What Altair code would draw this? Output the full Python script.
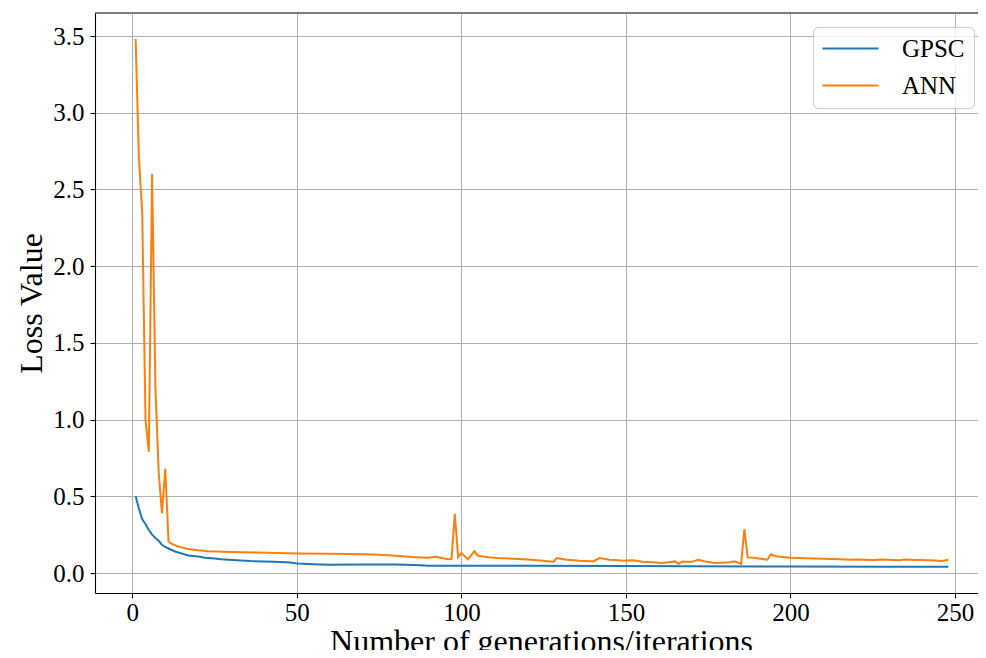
import altair as alt
import pandas as pd

# ---- data ----
gpsc_x = [1, 2, 3, 4, 5, 6, 7, 8, 9, 10, 11, 13, 15, 17, 20, 22, 25, 27, 33, 36, 43, 48, 50,
          55, 60, 70, 80, 86, 90, 120, 150, 170, 200, 230, 248]
gpsc_y = [0.50, 0.42, 0.35, 0.32, 0.28, 0.25, 0.228, 0.21, 0.184, 0.17, 0.16, 0.14, 0.128,
          0.115, 0.108, 0.100, 0.095, 0.090, 0.082, 0.078, 0.074, 0.068, 0.062, 0.058, 0.054,
          0.055, 0.055, 0.052, 0.048, 0.048, 0.046, 0.044, 0.042, 0.041, 0.041]

ann_x = [1, 2, 3, 4, 5, 6, 7, 8, 9, 10, 11, 12, 14, 17, 20, 23, 30, 38, 50, 60, 70, 75, 80,
         85, 88, 90, 92, 94, 96, 97, 98, 99, 100, 102, 104, 105, 108, 111, 116, 120, 124,
         127, 128, 129, 132, 136, 140, 142, 145, 147, 149, 152, 155, 158, 161, 163, 165,
         166, 167, 170, 172, 174, 177, 181, 183, 185, 186, 187, 189, 193, 194, 196, 200,
         205, 210, 215, 218, 220, 225, 228, 230, 233, 235, 238, 240, 244, 246, 248]
ann_y = [3.48, 2.70, 2.35, 1.00, 0.79, 2.60, 1.22, 0.66, 0.39, 0.68, 0.205, 0.19, 0.173,
         0.156, 0.148, 0.142, 0.138, 0.134, 0.128, 0.125, 0.122, 0.119, 0.112, 0.104, 0.102,
         0.100, 0.106, 0.098, 0.090, 0.092, 0.386, 0.104, 0.130, 0.090, 0.143, 0.113, 0.103,
         0.098, 0.093, 0.088, 0.082, 0.076, 0.074, 0.098, 0.087, 0.080, 0.076, 0.098, 0.087,
         0.085, 0.080, 0.083, 0.073, 0.070, 0.065, 0.070, 0.076, 0.060, 0.073, 0.073, 0.087,
         0.076, 0.065, 0.068, 0.076, 0.060, 0.287, 0.102, 0.100, 0.087, 0.121, 0.108, 0.100,
         0.097, 0.093, 0.090, 0.087, 0.088, 0.085, 0.089, 0.086, 0.084, 0.088, 0.085, 0.085,
         0.082, 0.078, 0.087]

series_names = ["GPSC", "ANN"]
series_colors = ["#1f77b4", "#ff7f0e"]
x_ticks = [0, 50, 100, 150, 200, 250]
y_ticks = [0.0, 0.5, 1.0, 1.5, 2.0, 2.5, 3.0, 3.5]

df = pd.concat([
    pd.DataFrame({"x": gpsc_x, "y": gpsc_y, "series": "GPSC", "k": 0}),
    pd.DataFrame({"x": ann_x, "y": ann_y, "series": "ANN", "k": 1}),
], ignore_index=True)

FONT = "Liberation Serif"
W, H = 883, 580

lines = alt.Chart(df).mark_line(strokeWidth=2).encode(
    x=alt.X("x:Q",
            scale=alt.Scale(domain=[-11.35, 257], nice=False, zero=False),
            axis=alt.Axis(values=x_ticks, title="Number of generations/iterations",
                          labelPadding=2, labelFlush=False, labelOverlap=False,
                          titleX=446, titleY=58, titleAlign="center",
                          titleBaseline="alphabetic")),
    y=alt.Y("y:Q",
            scale=alt.Scale(domain=[-0.13, 3.65], nice=False, zero=False),
            axis=alt.Axis(values=y_ticks, format=".1f", title="Loss Value",
                          labelPadding=6, labelOverlap=False, titleX=-54, titleY=290,
                          titleAngle=270, titleAlign="center",
                          titleBaseline="alphabetic")),
    color=alt.Color("series:N",
                    scale=alt.Scale(domain=series_names, range=series_colors),
                    sort=series_names,
                    legend=alt.Legend(orient="none", legendX=718, legendY=14, title=None,
                                      symbolType="M-1.1,0H4", symbolSize=484,
                                      symbolStrokeWidth=2, labelFont=FONT,
                                      labelFontSize=25, labelColor="black",
                                      labelOffset=55, padding=9, rowPadding=11,
                                      fillColor="rgba(255,255,255,0.8)",
                                      strokeColor="#cccccc", cornerRadius=5)),
    detail="series:N",
    order=alt.Order("x:Q"),
)

top_border = alt.Chart(pd.DataFrame({"a": [0]})).mark_rule(
    color="black", strokeWidth=1.1
).encode(x=alt.value(0), x2=alt.value(W), y=alt.value(0))

chart = alt.layer(lines, top_border).properties(
    width=W, height=H,
    autosize=alt.AutoSizeParams(type="none"),
    padding={"left": 87, "top": 5, "right": 0, "bottom": 57},
    background="white",
).configure_view(stroke="transparent").configure_axis(
    domainColor="black", domainWidth=1.1, tickColor="black", tickSize=5, tickWidth=1.1,
    gridColor="#b0b0b0", gridWidth=1, labelFont=FONT, labelFontSize=25,
    labelColor="black", titleFont=FONT, titleFontSize=32, titleFontWeight="normal",
    titleColor="black",
)

chart.save("out.html", embed_options={"renderer": "svg", "actions": False})
